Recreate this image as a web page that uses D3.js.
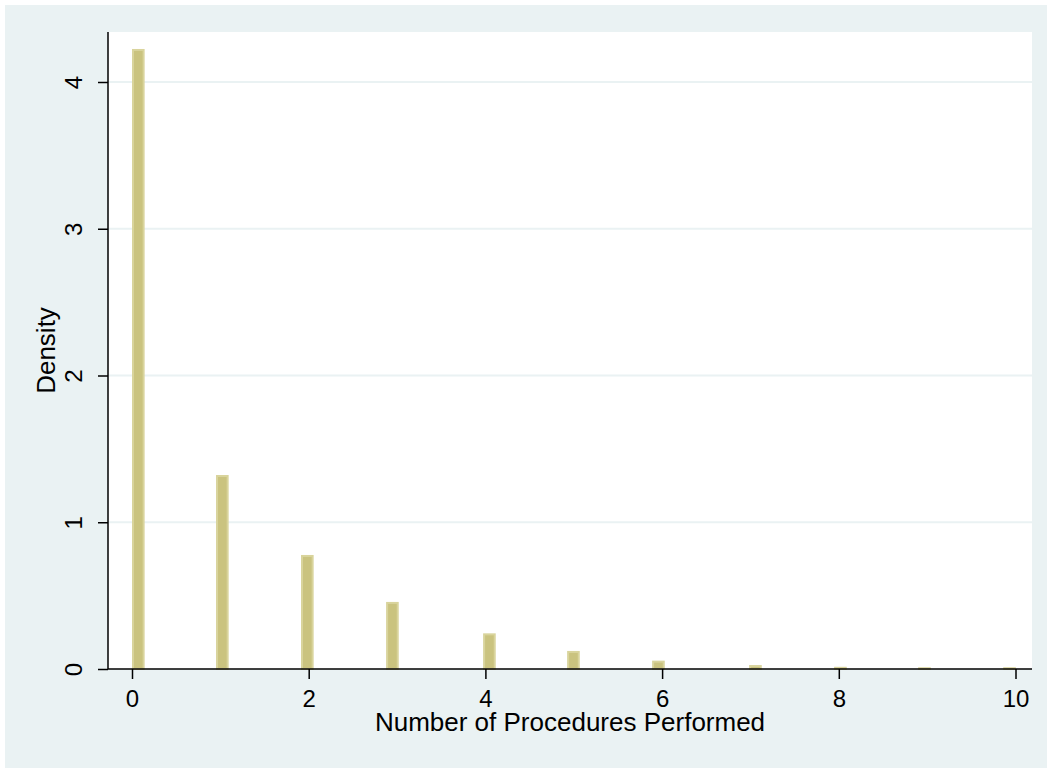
<!DOCTYPE html>
<html>
<head>
<meta charset="utf-8">
<script src="https://cdn.jsdelivr.net/npm/d3@7"></script>
<style>
  body { margin: 0; background: #fff; }
  text { font-family: "Liberation Sans", Arial, sans-serif; fill: #000; }
</style>
</head>
<body>
<svg id="chart" width="1047" height="768"></svg>
<script>
// histogram bins: left edge of each bin and its density
const binStart = [0, 0.951, 1.913, 2.876, 3.974, 4.925, 5.887, 6.985, 7.947, 8.898, 9.861];
const density = [4.225, 1.322, 0.777, 0.457, 0.243, 0.123, 0.057, 0.027, 0.015, 0.012, 0.012];
const binWidth = 0.143;
const xTicks = [0, 2, 4, 6, 8, 10];
const yTicks = [0, 1, 2, 3, 4];

const W = 1047, H = 768;
const plot = { left: 108, right: 1032, top: 32, bottom: 669 };

const svg = d3.select('#chart');

const x = d3.scaleLinear().domain([0, 10]).range([132, 1015.5]);
const y = d3.scaleLinear().domain([0, 4]).range([669, 82]);

svg.append('rect')
  .attr('x', 5).attr('y', 5)
  .attr('width', W - 5).attr('height', H - 5)
  .attr('fill', '#eaf2f3');

svg.append('rect')
  .attr('x', plot.left).attr('y', plot.top)
  .attr('width', plot.right - plot.left).attr('height', plot.bottom - plot.top)
  .attr('fill', '#fff');

// grid
svg.append('g')
  .selectAll('line')
  .data(yTicks.filter((d) => d > 0))
  .join('line')
  .attr('x1', plot.left).attr('x2', plot.right)
  .attr('y1', (d) => y(d)).attr('y2', (d) => y(d))
  .attr('stroke', '#eaf2f3')
  .attr('stroke-width', 2);

// bars
svg.append('g')
  .selectAll('rect')
  .data(binStart.map((b, i) => ({ x0: b, x1: b + binWidth, v: density[i] })))
  .join('rect')
  .attr('x', (d) => x(d.x0) + 1)
  .attr('y', (d) => y(d.v) + 1)
  .attr('width', (d) => x(d.x1) - x(d.x0) - 2)
  .attr('height', (d) => Math.max(0, y(0) - y(d.v) - 1))
  .attr('fill', '#cac37f')
  .attr('stroke', '#d9d49c')
  .attr('stroke-width', 2);

// x axis
const xAxis = d3.axisBottom(x).tickValues(xTicks).tickFormat(d3.format('d')).tickSize(10).tickPadding(11);
const gx = svg.append('g')
  .attr('transform', `translate(0,${plot.bottom})`)
  .call(xAxis);
gx.select('.domain').attr('d', `M${plot.left},0H${plot.right}`).attr('stroke', '#000').attr('stroke-width', 1.5);
gx.selectAll('.tick line').attr('stroke', '#000').attr('stroke-width', 1.5);
gx.selectAll('.tick text')
  .style('font-size', '24px')
  .attr('fill', '#000');

// y axis
const yAxis = d3.axisLeft(y).tickValues(yTicks).tickFormat(d3.format('d')).tickSize(10).tickPadding(0);
const gy = svg.append('g')
  .attr('transform', `translate(${plot.left},0)`)
  .call(yAxis);
gy.select('.domain').attr('d', `M0,${plot.top}V${plot.bottom}`).attr('stroke', '#000').attr('stroke-width', 1.5);
gy.selectAll('.tick line').attr('stroke', '#000').attr('stroke-width', 1.5);
gy.selectAll('.tick text')
  .style('font-size', '24px')
  .attr('fill', '#000')
  .attr('x', null).attr('dy', null)
  .attr('text-anchor', 'middle')
  .attr('transform', 'translate(-26,0) rotate(-90)');

// axis titles
svg.append('text')
  .attr('x', (plot.left + plot.right) / 2)
  .attr('y', 731)
  .attr('text-anchor', 'middle')
  .style('font-size', '26px')
  .text('Number of Procedures Performed');

svg.append('text')
  .attr('transform', `translate(55,${(plot.top + plot.bottom) / 2}) rotate(-90)`)
  .attr('text-anchor', 'middle')
  .style('font-size', '26px')
  .text('Density');
</script>
</body>
</html>
